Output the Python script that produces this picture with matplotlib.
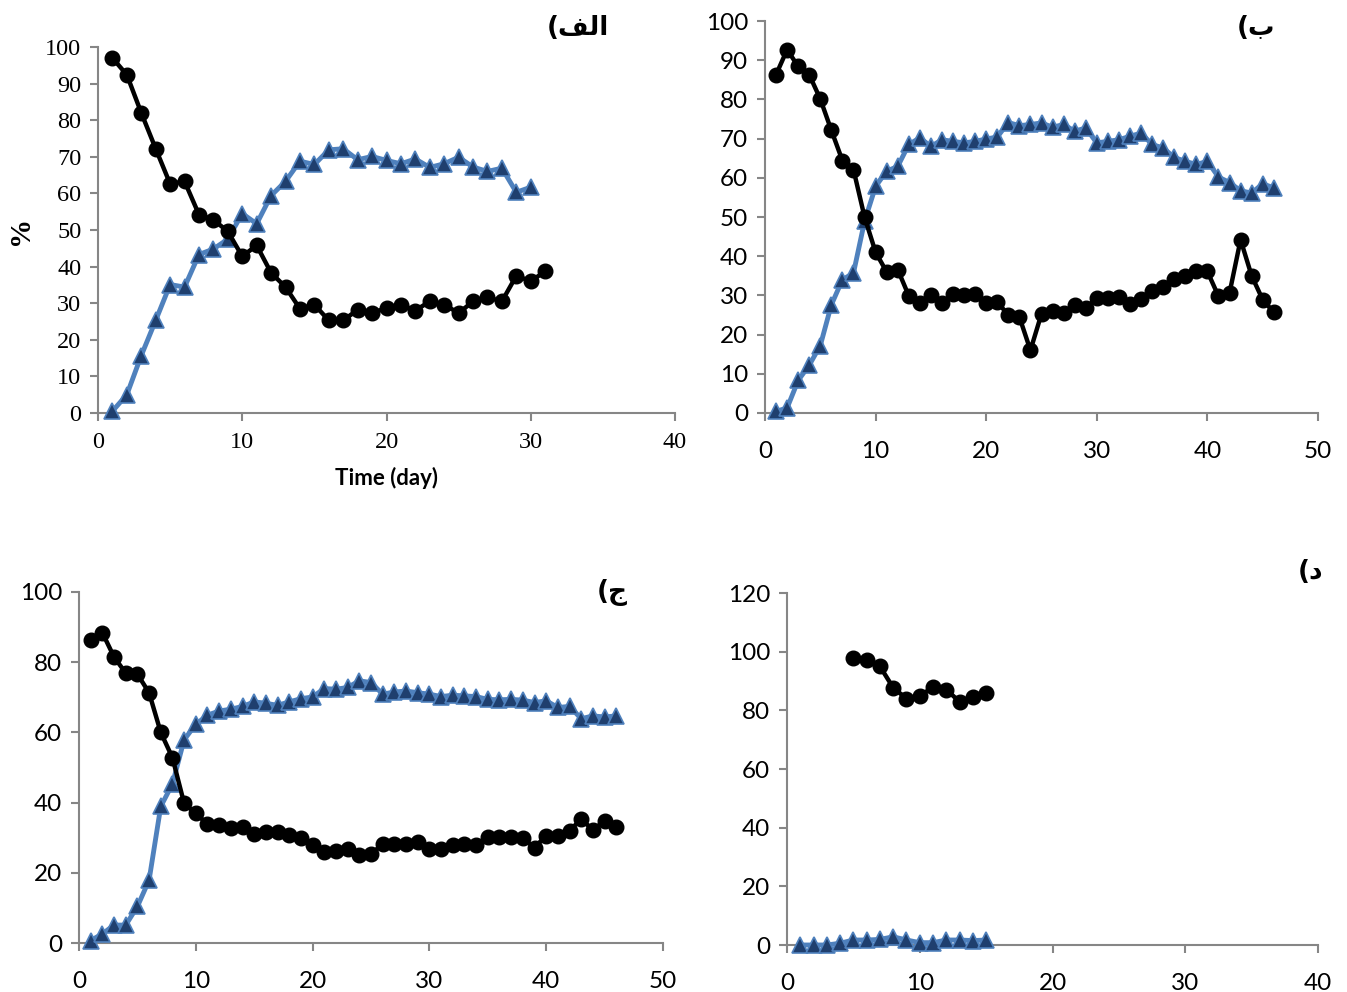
import matplotlib
matplotlib.use("Agg")
import matplotlib.pyplot as plt
import numpy as np

# ---------------- data ----------------
days_a_black = list(range(1, 32))
a_black = [97.0, 92.4, 82.0, 72.2, 62.6, 63.3, 54.2, 52.8, 49.6, 42.8, 45.8, 38.3, 34.4, 28.5, 29.6,
           25.3, 25.3, 28.2, 27.3, 28.7, 29.6, 28.0, 30.5, 29.6, 27.3, 30.5, 31.6, 30.5, 37.5, 36.0, 38.7]
days_a_blue = list(range(1, 31))
a_blue = [0.5, 5.0, 15.7, 25.3, 35.1, 34.4, 43.3, 44.8, 47.5, 54.5, 51.7, 59.4, 63.3, 68.8, 67.9,
          71.9, 72.2, 69.2, 70.1, 69.0, 68.1, 69.4, 67.1, 68.1, 69.9, 67.2, 66.0, 66.9, 60.3, 61.7]

days_b = list(range(1, 47))
b_black = [86.3, 92.7, 88.4, 86.3, 80.1, 72.1, 64.4, 62.1, 50.0, 41.0, 36.0, 36.6, 29.9, 28.1, 30.2,
           28.1, 30.4, 30.2, 30.4, 28.1, 28.2, 25.1, 24.5, 16.0, 25.3, 25.9, 25.5, 27.6, 26.8, 29.3,
           29.3, 29.5, 27.9, 29.2, 31.0, 32.1, 34.2, 35.0, 36.1, 36.1, 29.8, 30.6, 44.2, 35.0, 28.9, 25.7]
b_blue = [0.4, 1.3, 8.3, 12.2, 17.2, 27.6, 34.0, 35.7, 48.9, 57.8, 61.7, 62.9, 68.5, 70.2, 68.0,
          69.7, 69.3, 68.9, 69.3, 69.9, 70.4, 74.1, 73.3, 73.6, 74.0, 72.9, 73.6, 71.9, 72.7, 68.9,
          69.3, 69.7, 70.6, 71.4, 68.5, 67.6, 65.2, 64.2, 63.4, 64.2, 60.2, 58.8, 56.7, 56.1, 58.5, 57.4]

days_c = list(range(1, 47))
c_black = [86.2, 88.4, 81.5, 76.9, 76.6, 71.3, 60.0, 52.8, 39.8, 36.9, 33.9, 33.6, 32.9, 33.1, 31.0,
           31.5, 31.5, 30.8, 29.8, 27.9, 26.0, 26.3, 26.8, 25.0, 25.3, 28.2, 28.2, 28.2, 28.7, 26.9,
           26.8, 27.9, 28.2, 27.9, 30.3, 30.1, 30.3, 29.8, 27.2, 30.6, 30.6, 32.0, 35.3, 32.2, 34.8, 33.1]
c_blue = [0.7, 2.6, 5.1, 5.1, 10.4, 17.9, 38.9, 45.3, 57.9, 62.3, 64.9, 66.1, 66.6, 67.4, 68.7,
          68.3, 67.7, 68.7, 69.6, 70.1, 72.5, 72.3, 72.8, 74.7, 74.2, 70.9, 71.5, 71.8, 71.3, 70.9,
          70.2, 70.6, 70.4, 70.2, 69.4, 69.3, 69.4, 69.2, 68.5, 69.0, 67.1, 67.4, 63.9, 64.7, 64.4, 64.7]

days_d_black = list(range(5, 16))
d_black = [98.0, 97.0, 95.0, 87.7, 84.0, 84.8, 88.0, 87.1, 82.9, 84.6, 86.0]
days_d_blue = list(range(1, 16))
d_blue = [0.0, 0.0, 0.0, 0.6, 1.7, 1.7, 1.9, 2.8, 1.7, 0.8, 0.8, 1.7, 1.7, 1.5, 1.7]

panel_labels = ["(\uFED2\uFEDF\uFE8D", "(\uFE8F", "(\uFE9D", "(\uFEA9"]  # الف) ب) ج) د)

# ---------------- style ----------------
BLUE_LINE = "#4F81BD"
BLUE_MARK = "#1F3F6E"
SPINE = "#868686"

W, H = 1347, 992
fig = plt.figure(figsize=(W / 100, H / 100), dpi=100)


def box(l, r, t, b):
    return [l / W, 1 - b / H, (r - l) / W, (b - t) / H]


def style(ax, xmax, ymax, ystep, font, size, xpad):
    ax.set_xlim(0, xmax)
    ax.set_ylim(0, ymax)
    ax.set_xticks(np.arange(0, xmax + 1, 10))
    ax.set_yticks(np.arange(0, ymax + 1, ystep))
    for s in ("top", "right"):
        ax.spines[s].set_visible(False)
    for s in ("left", "bottom"):
        ax.spines[s].set_color(SPINE)
        ax.spines[s].set_linewidth(1.5)
    ax.tick_params(direction="out", length=6, width=1.5, color=SPINE, pad=6)
    ax.tick_params(axis="x", pad=xpad)
    for lab in ax.get_xticklabels() + ax.get_yticklabels():
        lab.set_fontfamily(font)
        lab.set_fontsize(size)
        lab.set_color("black")


def draw(ax, xb, yb, xl, yl):
    ax.plot(xl, yl, color=BLUE_LINE, lw=3.5, marker="^", ms=11, mfc=BLUE_MARK,
            mec=BLUE_LINE, mew=1.2, clip_on=False, zorder=3)
    ax.plot(xb, yb, color="black", lw=3.2, marker="o", ms=10.5, mfc="black",
            mec="black", clip_on=False, zorder=4)


# Panel A
axA = fig.add_axes(box(98, 675, 47, 413))
draw(axA, days_a_black, a_black, days_a_blue, a_blue)
style(axA, 40, 100, 10, "Liberation Serif", 17.5, 8)
axA.set_xlabel("Time (day)", fontfamily="Lato", fontweight="bold", fontsize=16, labelpad=10)
axA.set_ylabel("%", fontfamily="Liberation Serif", fontweight="bold", fontsize=21, labelpad=8)

# Panel B
axB = fig.add_axes(box(765, 1318, 21, 413))
draw(axB, days_b, b_black, days_b, b_blue)
style(axB, 50, 100, 10, "Lato", 17.5, 14)

# Panel C
axC = fig.add_axes(box(79, 663, 592, 943))
draw(axC, days_c, c_black, days_c, c_blue)
style(axC, 50, 100, 20, "Lato", 17.5, 14)

# Panel D
axD = fig.add_axes(box(787, 1318, 593, 945))
draw(axD, days_d_black, d_black, days_d_blue, d_blue)
style(axD, 40, 120, 20, "Lato", 17.5, 14)

# Panel letters (Arabic, bold)
for (x, y), lab in zip([(578, 28), (1256, 28), (612, 592), (1311, 572)], panel_labels):
    fig.text(x / W, 1 - y / H, lab, fontfamily="DejaVu Sans", fontweight="bold",
             fontsize=19, ha="center", va="center")

fig.savefig("out.png", dpi=100)
